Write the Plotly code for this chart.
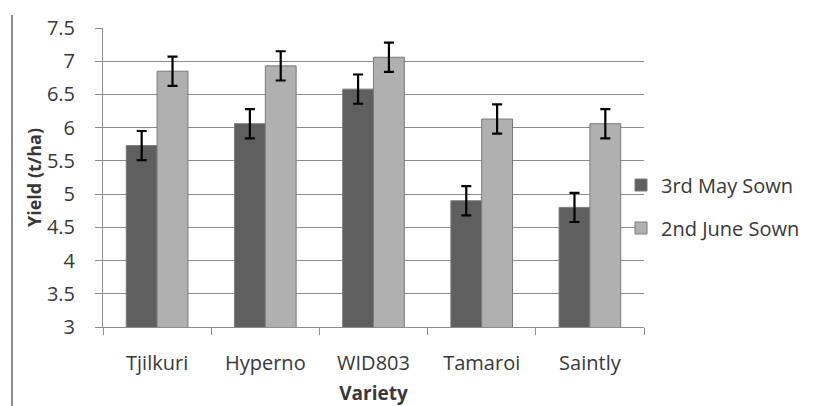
import plotly.graph_objects as go

varieties = ["Tjilkuri", "Hyperno", "WID803", "Tamaroi", "Saintly"]
may_yield = [5.73, 6.06, 6.58, 4.90, 4.80]
may_err = [0.22, 0.22, 0.22, 0.22, 0.22]
june_yield = [6.85, 6.93, 7.06, 6.13, 6.06]
june_err = [0.22, 0.22, 0.22, 0.22, 0.22]
series_names = ["3rd May Sown", "2nd June Sown"]
y_ticks = [3, 3.5, 4, 4.5, 5, 5.5, 6, 6.5, 7, 7.5]

# the page body has an 8px default margin, so the figure is sized/placed to compensate
OFF = 8
W, H = 819 - OFF, 406 - OFF
ML, MR, MT, MB = 95, 175, 20, 79
FONT = "Open Sans"
TXT = "#383838"
LINE = "#8c8c8c"
PW, PH = W - ML - MR, H - MT - MB

fig = go.Figure()
fig.add_trace(go.Bar(
    x=varieties, y=may_yield, name=series_names[0],
    marker=dict(color="#5f5f5f", line=dict(color="#7a7a7a", width=1)),
    error_y=dict(type="data", array=may_err, color="black", thickness=2.2, width=5),
    legendgroup="a",
))
fig.add_trace(go.Bar(
    x=varieties, y=june_yield, name=series_names[1],
    marker=dict(color="#b0b0b0", line=dict(color="#7a7a7a", width=1)),
    error_y=dict(type="data", array=june_err, color="black", thickness=2.2, width=5),
    legendgroup="b",
))

fig.update_layout(
    width=W, height=H,
    margin=dict(l=ML, r=MR, t=MT, b=MB, autoexpand=False),
    paper_bgcolor="white", plot_bgcolor="white",
    font=dict(family=FONT, size=20, color=TXT),
    barmode="group", bargap=0.43, bargroupgap=0,
    showlegend=True,
    legend=dict(
        x=(621 - OFF - ML) / PW, xanchor="left",
        y=(H - MB - (206.5 - OFF)) / PH, yanchor="middle",
        bgcolor="rgba(0,0,0,0)", tracegroupgap=14,
        font=dict(family=FONT, size=20, color=TXT),
        traceorder="grouped",
    ),
    xaxis=dict(
        title=dict(text="<b>Variety</b>", font=dict(family=FONT, size=19, color=TXT), standoff=17),
        showline=True, linecolor=LINE, linewidth=1,
        ticks="outside", tickson="boundaries", ticklen=7, tickcolor=LINE,
        showgrid=False, automargin=False,
        tickfont=dict(family=FONT, size=20, color=TXT),
        ticklabelstandoff=18,
    ),
    yaxis=dict(
        title=dict(text="<b>Yield (t/ha)</b>", font=dict(family=FONT, size=18, color=TXT), standoff=0),
        range=[3, 7.5], tickvals=y_ticks, ticktext=[f"{v:g}" for v in y_ticks],
        showline=True, linecolor=LINE, linewidth=1,
        ticks="outside", ticklen=7, tickcolor=LINE,
        showgrid=True, gridcolor=LINE, gridwidth=1,
        zeroline=False, automargin=False,
        tickfont=dict(family=FONT, size=20, color=TXT),
        ticklabelstandoff=16,
    ),
    shapes=[
        dict(
            type="line", xref="paper", yref="paper",
            x0=(12 - OFF - ML) / PW, x1=(12 - OFF - ML) / PW,
            y0=(H - MB - (15 - OFF)) / PH, y1=-(MB + 2) / PH,
            line=dict(color=LINE, width=2),
        ),
        # hide the gridline at the top edge (the reference has none there)
        dict(
            type="line", xref="paper", yref="paper",
            x0=1.5 / PW, x1=1, y0=1, y1=1,
            line=dict(color="white", width=3), layer="above",
        ),
    ],
)

fig.write_html("out.html")
